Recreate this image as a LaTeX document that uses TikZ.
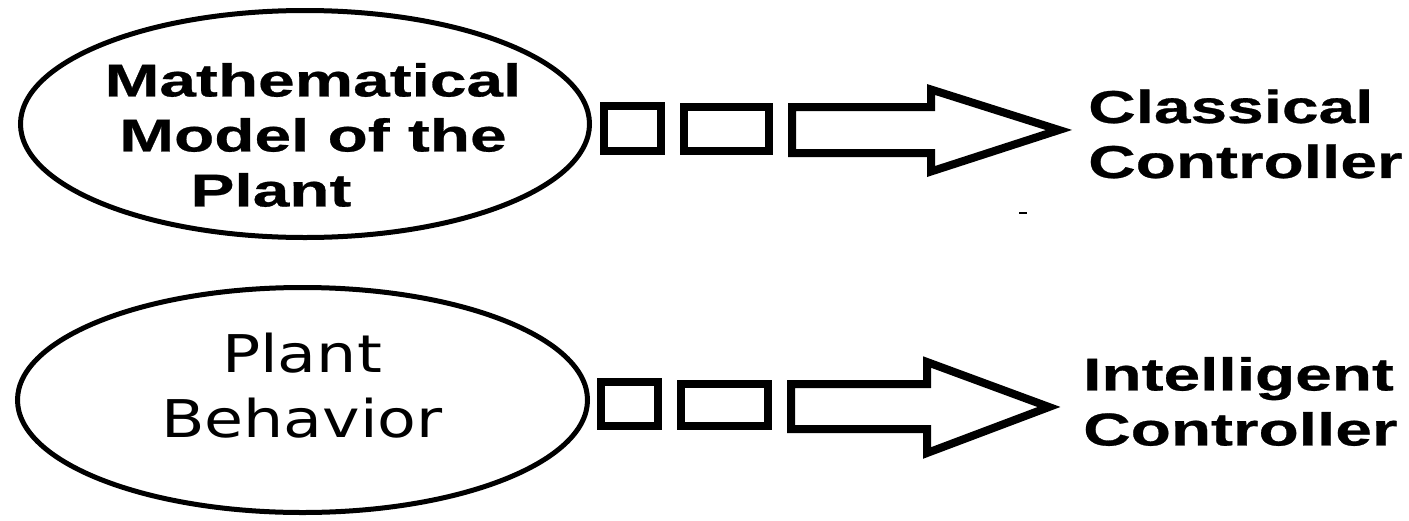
\documentclass[tikz,border=0pt]{standalone}
\usepackage{fontspec}
\usetikzlibrary{shapes.geometric}
\newfontfamily\bwfont[FakeStretch=1.43,FakeBold=0.6]{Liberation Sans}
\newfontfamily\rwfont[FakeStretch=1.22]{DejaVu Sans}
\begin{document}
\begin{tikzpicture}[x=1pt,y=-1pt,
  oval/.style={ellipse,draw,line width=5pt,inner sep=0pt},
  sqbox/.style={rectangle,draw,line width=8pt,inner sep=0pt},
  blockarrow/.style={draw,line width=8pt,line join=miter},
  boldtxt/.style={inner sep=0pt,font=\bwfont\bfseries\fontsize{46}{55}\selectfont},
  regtxt/.style={inner sep=0pt,align=center,font=\rwfont\fontsize{52}{65}\selectfont}]
\useasboundingbox (0,0) rectangle (1409,520);
% top row
\node[oval,minimum width=569pt,minimum height=227pt] (e1) at (305,124) {};
\node[boldtxt,align=center] (t1) at (313,135) {Mathematical\\Model of the\\Plant\rule{84pt}{0pt}};
\node[sqbox,minimum width=57pt,minimum height=45pt] (s11) at (632.5,128.5) {};
\node[sqbox,minimum width=85pt,minimum height=44pt] (s12) at (726.5,129) {};
\coordinate (a1tip) at (1059,130);
\draw[blockarrow] (792,107) -- (931,107) -- (931,89.5) -- (a1tip) -- (931,171.5) -- (931,153) -- (792,153) -- cycle;
\node[boldtxt,align=left,anchor=west] (c1) at (1088,134) {Classical\\Controller};
\draw[line width=2.5pt] (1019,213) -- (1027,213);
% bottom row
\node[oval,minimum width=570pt,minimum height=225pt] (e2) at (302.5,400) {};
\node[regtxt] (t2) at (302,386) {Plant\\Behavior};
\node[sqbox,minimum width=57pt,minimum height=44pt] (s21) at (629.5,404) {};
\node[sqbox,minimum width=87pt,minimum height=42pt] (s22) at (724.5,405) {};
\coordinate (a2tip) at (1049,407);
\draw[blockarrow] (791,384) -- (927,384) -- (927,362) -- (a2tip) -- (927,453) -- (927,429) -- (791,429) -- cycle;
\node[boldtxt,align=left,anchor=west] (c2) at (1083,401.5) {Intelligent\\Controller};
\end{tikzpicture}
\end{document}
